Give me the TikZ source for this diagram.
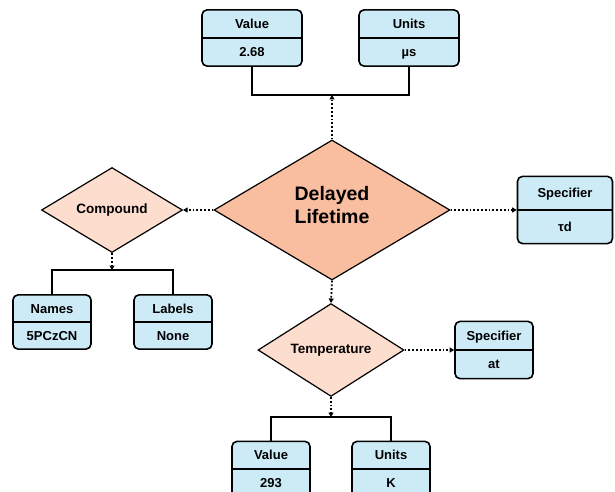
\documentclass[tikz,border=0pt]{standalone}
\usepackage{fontspec}
\setmainfont{Liberation Sans}
\usetikzlibrary{shapes.geometric,shapes.multipart,arrows.meta}

\definecolor{boxblue}{RGB}{205,235,246}
\definecolor{mainsalmon}{RGB}{249,189,160}
\definecolor{subsalmon}{RGB}{252,221,206}

% one row of an entity box, height given as option
\newcommand{\cellrow}[2][26pt]{\rule[\dimexpr4.6pt-#1/2\relax]{0pt}{#1}#2}

\tikzset{
	entity/.style={
		rectangle split, rectangle split parts=2,
		draw, line width=1.6pt, rounded corners=5pt, fill=boxblue,
		inner ysep=0pt, inner xsep=2pt,
		font=\bfseries\fontsize{13}{15}\selectfont
	},
	relation/.style={
		diamond, draw, line width=1.2pt, fill=subsalmon, inner sep=0pt,
		font=\bfseries\fontsize{13.5}{15}\selectfont
	},
	link/.style={dotted, line width=1.8pt, -{Triangle[length=4.5pt,width=5pt]}},
	bar/.style={line width=1.6pt}
}

\begin{document}
\begin{tikzpicture}[x=1pt, y=-1pt]
	\useasboundingbox (0,0) rectangle (615,492);

	% main relation
	\node[relation, fill=mainsalmon, minimum width=236pt, minimum height=140pt,
		align=center, text depth=10pt, font=\bfseries\fontsize{19.5}{23}\selectfont] (main) at (332,210) {Delayed\\Lifetime};

	% value of the delayed lifetime
	\node[entity, minimum width=100pt] (val1) at (252,38) {\cellrow[26.5pt]{Value}\nodepart{two}\cellrow[26.5pt]{2.68}};
	\node[entity, minimum width=100pt] (unit1) at (409,38) {\cellrow[26.5pt]{Units}\nodepart{two}\cellrow[26.5pt]{µs}};
	\coordinate (jtop) at (332,95);
	\draw[link] (main.north) -- (jtop);
	\draw[bar] (val1.south) |- (jtop) -| (unit1.south);

	% specifier
	\node[entity, minimum width=95pt] (spec1) at (565,210) {\cellrow[32pt]{Specifier}\nodepart{two}\cellrow[32pt]{τd}};
	\draw[link] (main.east) -- (spec1.west);

	% compound
	\node[relation, minimum width=141pt, minimum height=85pt] (comp) at (112,210) {Compound};
	\draw[link] (main.west) -- (comp.east);
	\node[entity, minimum width=78pt] (names) at (52,322) {\cellrow[25.5pt]{Names}\nodepart{two}\cellrow[25.5pt]{5PCzCN}};
	\node[entity, minimum width=78pt] (labels) at (173,322) {\cellrow[25.5pt]{Labels}\nodepart{two}\cellrow[25.5pt]{None}};
	\coordinate (jcomp) at (112,270);
	\draw[link] (comp.south) -- (jcomp);
	\draw[bar] (names.north) |- (jcomp) -| (labels.north);

	% temperature
	\node[relation, minimum width=146pt, minimum height=85pt] (temp) at (331,350) {Temperature};
	\draw[link] (main.south) -- (temp.north);
	\node[entity, minimum width=78pt] (spec2) at (494,350) {\cellrow[27pt]{Specifier}\nodepart{two}\cellrow[27pt]{at}};
	\draw[link] (temp.east) -- (spec2.west);
	\node[entity, minimum width=78pt] (val2) at (271,469) {\cellrow[26pt]{Value}\nodepart{two}\cellrow[26pt]{293}};
	\node[entity, minimum width=78pt] (unit2) at (391,469) {\cellrow[26pt]{Units}\nodepart{two}\cellrow[26pt]{K}};
	\coordinate (jtemp) at (331,417);
	\draw[link] (temp.south) -- (jtemp);
	\draw[bar] (val2.north) |- (jtemp) -| (unit2.north);
\end{tikzpicture}
\end{document}
